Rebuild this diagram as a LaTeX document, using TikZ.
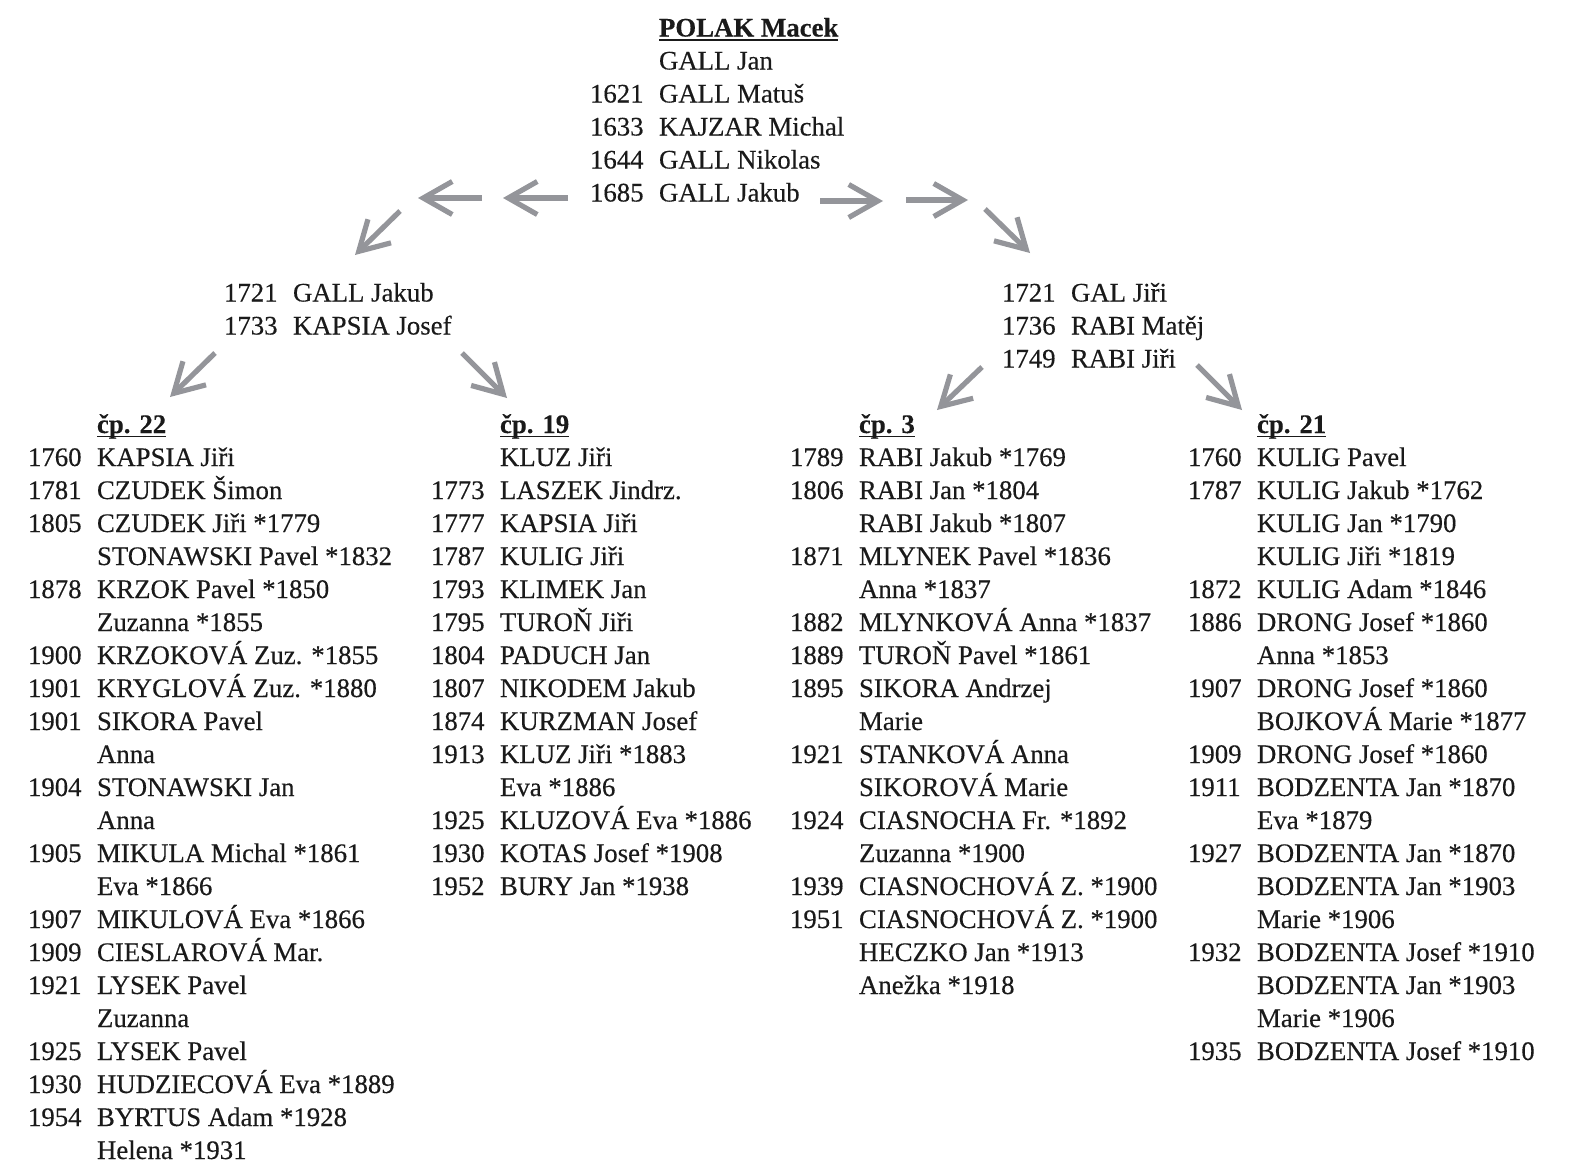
\documentclass[tikz,border=0pt]{standalone}
\usepackage{fontspec}
\setmainfont{Liberation Serif}[FakeBold=0.3]
\usetikzlibrary{arrows.meta}
\definecolor{arrowgray}{HTML}{94959A}
\definecolor{inkcol}{HTML}{1A1A1A}
\newcommand\Ln[2]{\hbox{\makebox[34.5pt][l]{#1}#2}}
\newcommand\ulb[1]{\setbox0\hbox{\bfseries #1}\rlap{\rule[-2.2pt]{\wd0}{0.9pt}}\box0}
\newcommand\Blk[1]{\vtop{\baselineskip=16.5pt\lineskiplimit=-100pt\lineskip=0pt #1}}
\tikzset{
  block/.style={anchor=base west, inner sep=0pt, outer sep=0pt, text=inkcol,
    font=\fontsize{13.4pt}{16.5pt}\selectfont},
  garrow/.style={draw=arrowgray, line width=2.6pt,
    -{Straight Barb[length=14.5pt, width=16.5pt]}}
}
\begin{document}
\begin{tikzpicture}[x=0.5pt, y=-0.5pt]
\useasboundingbox (0,0) rectangle (1569,1162);

\node[block] (top) at (590,36.5) {\Blk{%
\Ln{}{\ulb{POLAK Macek}}
\Ln{}{GALL Jan}
\Ln{1621}{GALL Matuš}
\Ln{1633}{KAJZAR Michal}
\Ln{1644}{GALL Nikolas}
\Ln{1685}{GALL Jakub}}};

\node[block] (lm) at (224,301.5) {\Blk{%
\Ln{1721}{GALL Jakub}
\Ln{1733}{KAPSIA Josef}}};

\node[block] (rm) at (1002,301.5) {\Blk{%
\Ln{1721}{GAL Jiři}
\Ln{1736}{RABI Matěj}
\Ln{1749}{RABI Jiři}}};

\node[block] (c1) at (28,433) {\Blk{%
\Ln{}{\ulb{čp. 22}}
\Ln{1760}{KAPSIA Jiři}
\Ln{1781}{CZUDEK Šimon}
\Ln{1805}{CZUDEK Jiři *1779}
\Ln{}{STONAWSKI Pavel *1832}
\Ln{1878}{KRZOK Pavel *1850}
\Ln{}{Zuzanna *1855}
\Ln{1900}{KRZOKOVÁ Zuz. *1855}
\Ln{1901}{KRYGLOVÁ Zuz. *1880}
\Ln{1901}{SIKORA Pavel}
\Ln{}{Anna}
\Ln{1904}{STONAWSKI Jan}
\Ln{}{Anna}
\Ln{1905}{MIKULA Michal *1861}
\Ln{}{Eva *1866}
\Ln{1907}{MIKULOVÁ Eva *1866}
\Ln{1909}{CIESLAROVÁ Mar.}
\Ln{1921}{LYSEK Pavel}
\Ln{}{Zuzanna}
\Ln{1925}{LYSEK Pavel}
\Ln{1930}{HUDZIECOVÁ Eva *1889}
\Ln{1954}{BYRTUS Adam *1928}
\Ln{}{Helena *1931}}};

\node[block] (c2) at (431,433) {\Blk{%
\Ln{}{\ulb{čp. 19}}
\Ln{}{KLUZ Jiři}
\Ln{1773}{LASZEK Jindrz.}
\Ln{1777}{KAPSIA Jiři}
\Ln{1787}{KULIG Jiři}
\Ln{1793}{KLIMEK Jan}
\Ln{1795}{TUROŇ Jiři}
\Ln{1804}{PADUCH Jan}
\Ln{1807}{NIKODEM Jakub}
\Ln{1874}{KURZMAN Josef}
\Ln{1913}{KLUZ Jiři *1883}
\Ln{}{Eva *1886}
\Ln{1925}{KLUZOVÁ Eva *1886}
\Ln{1930}{KOTAS Josef *1908}
\Ln{1952}{BURY Jan *1938}}};

\node[block] (c3) at (790,433) {\Blk{%
\Ln{}{\ulb{čp. 3}}
\Ln{1789}{RABI Jakub *1769}
\Ln{1806}{RABI Jan *1804}
\Ln{}{RABI Jakub *1807}
\Ln{1871}{MLYNEK Pavel *1836}
\Ln{}{Anna *1837}
\Ln{1882}{MLYNKOVÁ Anna *1837}
\Ln{1889}{TUROŇ Pavel *1861}
\Ln{1895}{SIKORA Andrzej}
\Ln{}{Marie}
\Ln{1921}{STANKOVÁ Anna}
\Ln{}{SIKOROVÁ Marie}
\Ln{1924}{CIASNOCHA Fr. *1892}
\Ln{}{Zuzanna *1900}
\Ln{1939}{CIASNOCHOVÁ Z. *1900}
\Ln{1951}{CIASNOCHOVÁ Z. *1900}
\Ln{}{HECZKO Jan *1913}
\Ln{}{Anežka *1918}}};

\node[block] (c4) at (1188,433) {\Blk{%
\Ln{}{\ulb{čp. 21}}
\Ln{1760}{KULIG Pavel}
\Ln{1787}{KULIG Jakub *1762}
\Ln{}{KULIG Jan *1790}
\Ln{}{KULIG Jiři *1819}
\Ln{1872}{KULIG Adam *1846}
\Ln{1886}{DRONG Josef *1860}
\Ln{}{Anna *1853}
\Ln{1907}{DRONG Josef *1860}
\Ln{}{BOJKOVÁ Marie *1877}
\Ln{1909}{DRONG Josef *1860}
\Ln{1911}{BODZENTA Jan *1870}
\Ln{}{Eva *1879}
\Ln{1927}{BODZENTA Jan *1870}
\Ln{}{BODZENTA Jan *1903}
\Ln{}{Marie *1906}
\Ln{1932}{BODZENTA Josef *1910}
\Ln{}{BODZENTA Jan *1903}
\Ln{}{Marie *1906}
\Ln{1935}{BODZENTA Josef *1910}}};

% arrow end points
\coordinate (a1s) at (568,198);  \coordinate (a1e) at (503,198);
\coordinate (a2s) at (482,198);  \coordinate (a2e) at (418,198);
\coordinate (a3s) at (400,211);  \coordinate (a3e) at (355,255);
\coordinate (a4s) at (820,201);  \coordinate (a4e) at (883,201);
\coordinate (a5s) at (906,200);  \coordinate (a5e) at (968,200);
\coordinate (a6s) at (985,209);  \coordinate (a6e) at (1030,253);
\coordinate (a7s) at (215,353);  \coordinate (a7e) at (170,397);
\coordinate (a8s) at (462,353);  \coordinate (a8e) at (507,398);
\coordinate (a9s) at (982,367);  \coordinate (a9e) at (937,410);
\coordinate (a10s) at (1197,365); \coordinate (a10e) at (1242,410);

\foreach \i in {1,...,10} {\draw[garrow] (a\i s) -- (a\i e);}
\end{tikzpicture}
\end{document}
